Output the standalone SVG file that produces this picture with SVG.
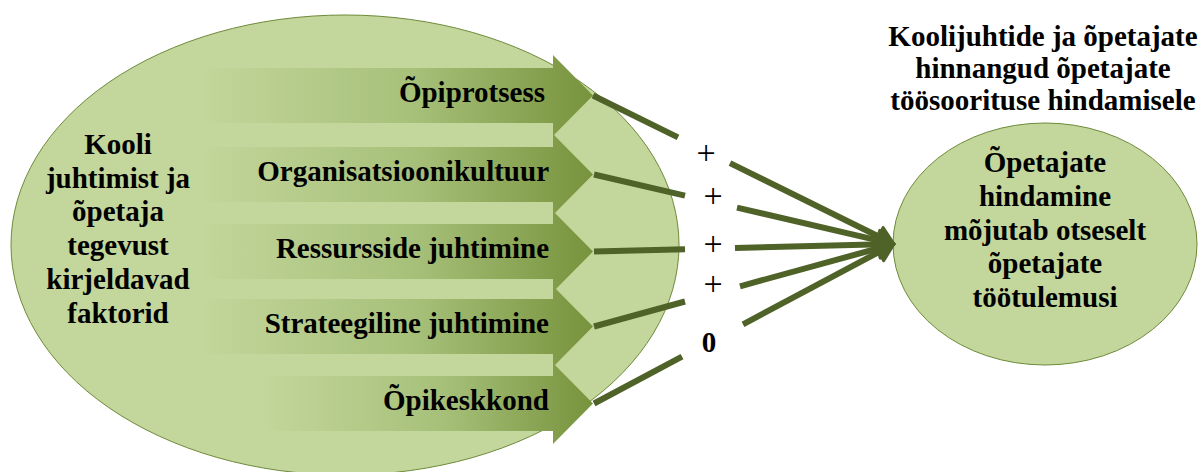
<svg xmlns="http://www.w3.org/2000/svg" width="1202" height="472" viewBox="0 0 1202 472">
<defs>
<linearGradient id="arrowGrad" x1="0" y1="0" x2="1" y2="0">
<stop offset="0" stop-color="#C3D69B"/>
<stop offset="0.55" stop-color="#A6C079"/>
<stop offset="1" stop-color="#77933C"/>
</linearGradient>
<marker id="head" markerUnits="userSpaceOnUse" markerWidth="40" markerHeight="40" viewBox="-10 -20 40 40" refX="0" refY="0" orient="auto">
<path d="M12,0 L-5,-10 L-5,10 Z" fill="#4F6228" stroke="#4F6228" stroke-width="3" stroke-linejoin="round"/>
</marker>
</defs>
<style>
.ell{fill:#C3D69B;stroke:#6E8A3A;stroke-width:1}
.arrow{fill:url(#arrowGrad)}
text{font-family:'Liberation Serif','Times New Roman',Times,'DejaVu Serif',serif}
.t{font-weight:bold;font-size:29px;fill:#000}
.lbl{text-anchor:end}
.mid{text-anchor:middle}
.plus{font-size:34px;fill:#000;text-anchor:middle}
.conn{stroke:#4F6228;stroke-width:6;fill:none;stroke-linecap:butt}
</style>

<g id="factors">
<ellipse class="ell" cx="345" cy="245" rx="334" ry="230"/>
<text class="t mid" x="118" y="154" font-family="Liberation Serif, serif">Kooli<tspan x="118" dy="33.7">juhtimist ja</tspan><tspan x="118" dy="33.7">õpetaja</tspan><tspan x="118" dy="33.7">tegevust</tspan><tspan x="118" dy="33.7">kirjeldavad</tspan><tspan x="118" dy="33.7">faktorid</tspan></text>
</g>

<g id="arrow-opiprotsess">
<path class="arrow" d="M200,68 H553 V55 L593,95.5 L553,136 V123 H200 Z"/>
<text class="t lbl" x="545" y="102" font-family="Liberation Serif, serif">Õpiprotsess</text>
</g>
<g id="arrow-organisatsioonikultuur">
<path class="arrow" d="M200,147 H553 V134 L593,174.5 L553,215 V202 H200 Z"/>
<text class="t lbl" x="549" y="181" font-family="Liberation Serif, serif">Organisatsioonikultuur</text>
</g>
<g id="arrow-ressursside">
<path class="arrow" d="M200,224 H553 V211 L593,251.5 L553,292 V279 H200 Z"/>
<text class="t lbl" x="549" y="258" font-family="Liberation Serif, serif">Ressursside juhtimine</text>
</g>
<g id="arrow-strateegiline">
<path class="arrow" d="M200,299 H553 V286 L593,326.5 L553,367 V354 H200 Z"/>
<text class="t lbl" x="549" y="333" font-family="Liberation Serif, serif">Strateegiline juhtimine</text>
</g>
<g id="arrow-opikeskkond">
<path class="arrow" d="M263,376 H553 V363 L593,403.5 L553,444 V431 H263 Z"/>
<text class="t lbl" x="549" y="410" font-family="Liberation Serif, serif">Õpikeskkond</text>
</g>

<g id="outcome">
<ellipse class="ell" cx="1045" cy="244" rx="152" ry="121"/>
<text class="t mid" x="1045" y="172" font-family="Liberation Serif, serif">Õpetajate<tspan x="1045" dy="33.8">hindamine</tspan><tspan x="1045" dy="33.8">mõjutab otseselt</tspan><tspan x="1045" dy="33.8">õpetajate</tspan><tspan x="1045" dy="33.8">töötulemusi</tspan></text>
</g>

<g id="title">
<text class="t mid" x="1043" y="46" font-family="Liberation Serif, serif">Koolijuhtide ja õpetajate<tspan x="1043" dy="32">hinnangud õpetajate</tspan><tspan x="1043" dy="32">töösoorituse hindamisele</tspan></text>
</g>

<g id="connectors">
<line class="conn" x1="593" y1="95.5" x2="678" y2="137.4"/>
<line class="conn" x1="730" y1="163.1" x2="883.2" y2="238.7" marker-end="url(#head)"/>
<line class="conn" x1="594" y1="174.5" x2="685" y2="195.6"/>
<line class="conn" x1="737" y1="207.6" x2="882.3" y2="241.3" marker-end="url(#head)"/>
<line class="conn" x1="594" y1="251.5" x2="685" y2="249.2"/>
<line class="conn" x1="735" y1="248" x2="882" y2="244.3" marker-end="url(#head)"/>
<line class="conn" x1="594" y1="326.5" x2="685" y2="301.5"/>
<line class="conn" x1="740" y1="286.3" x2="882.4" y2="247.2" marker-end="url(#head)"/>
<line class="conn" x1="594" y1="403.5" x2="682" y2="356.7"/>
<line class="conn" x1="743" y1="324.3" x2="883.4" y2="249.6" marker-end="url(#head)"/>
<text class="plus" x="706" y="164" font-family="Liberation Serif, serif">+</text>
<text class="plus" x="713" y="207" font-family="Liberation Serif, serif">+</text>
<text class="plus" x="713" y="255" font-family="Liberation Serif, serif">+</text>
<text class="plus" x="713" y="295" font-family="Liberation Serif, serif">+</text>
<text class="t mid" x="709" y="352" font-family="Liberation Serif, serif">0</text>
</g>
</svg>
